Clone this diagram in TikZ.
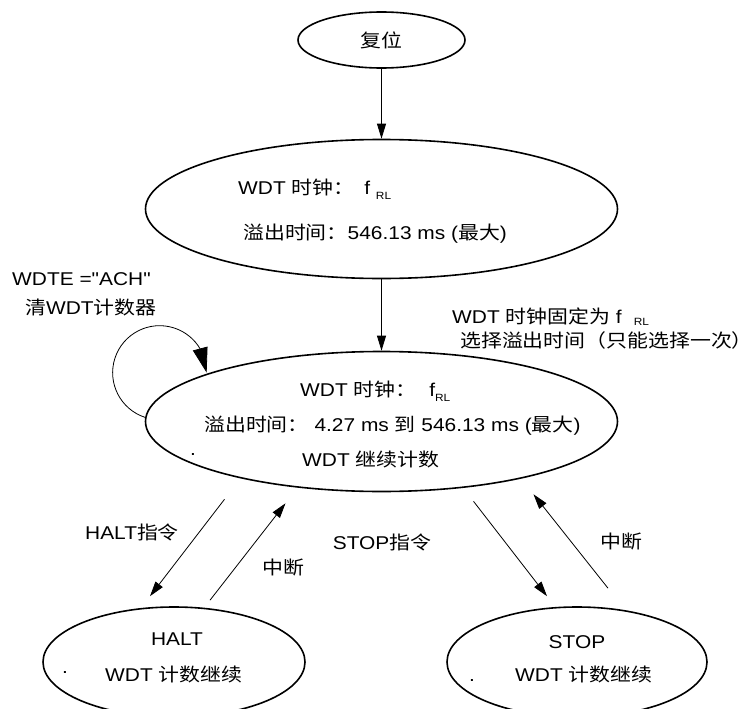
\documentclass[tikz,border=0pt]{standalone}
\usepackage{fontspec}
\setmainfont[FakeStretch=1.13, Ligatures=TeXOff]{Liberation Sans}
\newfontfamily\cjk[FakeStretch=1.13]{Noto Sans CJK SC}
\usetikzlibrary{positioning,shapes.geometric,arrows.meta,calc,bending}
\newcommand{\zh}[1]{{\cjk #1}}
\newcommand{\lowidx}[2][-5pt]{\raisebox{#1}{\fontsize{10.5pt}{10.5pt}\selectfont #2}}
\tikzset{
  state/.style    = {draw, ellipse, line width=1.6pt, inner sep=0pt,
                     font=\fontsize{18.5pt}{22pt}\selectfont},
  txt/.style      = {anchor=base west, inner sep=0pt,
                     font=\fontsize{18.5pt}{22pt}\selectfont},
  ctxt/.style     = {txt, anchor=base},
  flow/.style     = {-{Triangle[length=15pt,width=9pt]}, line width=0.8pt},
  selfloop/.style = {-{Triangle[length=25pt,width=15pt]}, line width=0.8pt},
}
\begin{document}
\begin{tikzpicture}[x=1pt, y=-1pt]
\useasboundingbox (0,0) rectangle (752,709);
\clip (0,0) rectangle (752,709);

%% =====================================================================
%% States
%% =====================================================================
\node[state, minimum width=167pt, minimum height=56pt]  (reset)   at (381.5,40)  {\zh{复位}};
\node[state, minimum width=472pt, minimum height=139pt] (clock)   at (381.5,209) {};
\node[state, minimum width=472pt, minimum height=140pt] (working) at (381.5,421.5) {};
\node[state, minimum width=262pt, minimum height=110pt] (halt)    at (174,662)   {};
\node[state, minimum width=260pt, minimum height=110pt] (stop)    at (577,662)   {};

%% --- texts inside the states ------------------------------------------
\node[txt] (clockclk) at (238,194.5) {WDT \zh{时钟：}\hspace{10pt}f\ \lowidx{RL}};
\node[txt] (clockovf) at (243,239.5) {\zh{溢出时间：}546.13 ms (\zh{最大})};

\node[txt] (workclk)  at (300,396.5) {WDT \zh{时钟：}\hspace{13pt}f\lowidx{RL}};
\node[txt] (workovf)  at (204,431.5) {\zh{溢出时间：} 4.27 ms \zh{到} 546.13 ms (\zh{最大})};
\node[txt] (workcnt)  at (302,466.5) {WDT \zh{继续计数}};
\node[ctxt] (workdot) at (193,455.5) {.};

\node[ctxt] (halttitle) at (177,645.5) {HALT};
\node[txt]  (haltcnt)   at (105,681.5) {WDT \zh{计数继续}};
\node[ctxt] (haltdot)   at (65,673.5)  {.};

\node[ctxt] (stoptitle) at (577,648.5) {STOP};
\node[txt]  (stopcnt)   at (515,681.5) {WDT \zh{计数继续}};
\node[ctxt] (stopdot)   at (472,681.5) {.};

%% =====================================================================
%% Transitions
%% =====================================================================
\draw[flow] (reset) -- (clock);
\draw[flow] (clock) -- (working);
\draw[selfloop] (working.179) arc[start angle=108, end angle=360, radius=47];

\draw[flow] ($(working.south)+(-157,7)$) -- ($(halt.north)+(-24,-10)$);
\draw[flow] ($(halt.north)+(36,-6)$)     -- ($(working.south)+(-96,11)$);
\draw[flow] ($(working.south)+(92,9)$)   -- ($(stop.north)+(-30,-10)$);
\draw[flow] ($(stop.north)+(31,-18)$)    -- ($(working.south)+(152,2)$);

%% --- transition labels ------------------------------------------------
\node[txt] (clear1) at (12,285.5)  {WDTE ="ACH"};
\node[txt] (clear2) at (25,314.5)  {\zh{清}WDT\zh{计数器}};
\node[txt] (fixed1) at (452,323.5) {WDT \zh{时钟固定为} f\hspace{12pt}\lowidx[-2pt]{RL}};
\node[txt] (fixed2) at (460,347)   {\zh{选择溢出时间（只能选择一次）}};

\node[txt]  (haltcmd) at (85,539.5)  {HALT\zh{指令}};
\node[txt]  (haltint) at (262,574.5) {\zh{中断}};
\node[ctxt] (stopcmd) at (382,549.5) {STOP\zh{指令}};
\node[txt]  (stopint) at (600,548.5) {\zh{中断}};

\end{tikzpicture}
\end{document}
